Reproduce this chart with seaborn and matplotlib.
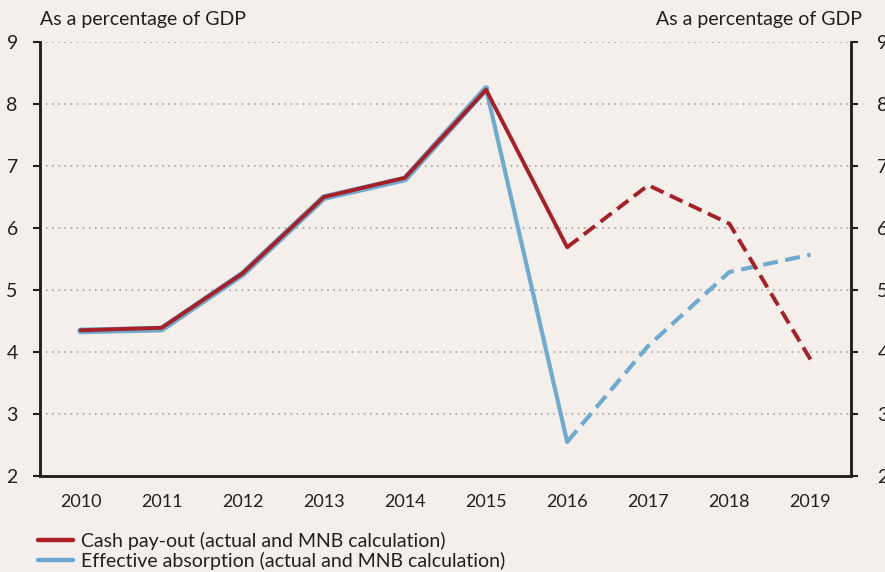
import pandas as pd
import matplotlib.pyplot as plt
import seaborn as sns

# Data
years = [2010, 2011, 2012, 2013, 2014, 2015, 2016, 2017, 2018, 2019]
cash_payout = [4.35, 4.39, 5.27, 6.50, 6.81, 8.23, 5.69, 6.69, 6.07, 3.88]
absorption = [4.34, 4.37, 5.26, 6.49, 6.79, 8.25, 2.55, 4.10, 5.29, 5.57]
last_actual = 2016  # solid up to here, dashed afterwards

bg = '#f5efec'
red = '#a81f25'
blue = '#6eabd0'
ink = '#231f20'

sns.set_style('white')
plt.rcParams['font.family'] = ['Lato', 'DejaVu Sans']

df = pd.DataFrame({'year': years, 'cash': cash_payout, 'absorb': absorption})
actual = df[df['year'] <= last_actual]
forecast = df[df['year'] >= last_actual]
overlap = df[df['year'] <= 2015]

fig = plt.figure(figsize=(8.85, 5.72), dpi=100, facecolor=bg)
ax = fig.add_axes([0.0452, 0.1678, 0.9164, 0.7588], facecolor=bg)

# blue halo under the shared part, then actual and forecast segments
sns.lineplot(data=overlap, x='year', y='absorb', ax=ax, color=blue, lw=4.8, zorder=2)
sns.lineplot(data=actual, x='year', y='absorb', ax=ax, color=blue, lw=3.0, zorder=2)
sns.lineplot(data=forecast, x='year', y='absorb', ax=ax, color=blue, lw=3.0,
             linestyle=(0, (3.6, 1.8)), zorder=2)
sns.lineplot(data=actual, x='year', y='cash', ax=ax, color=red, lw=2.8, zorder=3)
sns.lineplot(data=forecast, x='year', y='cash', ax=ax, color=red, lw=2.8,
             linestyle=(0, (3.6, 1.8)), zorder=3)

ax.set_xlim(years[0] - 0.5, years[-1] + 0.5)
ax.set_ylim(2, 9)
ax.set_xlabel('')
ax.set_ylabel('')

# category ticks between years, labels centred
ax.set_xticks([y - 0.5 for y in years] + [years[-1] + 0.5])
ax.set_xticklabels([])
ax.set_xticks(years, minor=True)
ax.set_xticklabels([str(y) for y in years], minor=True, fontsize=13, color=ink)
ax.tick_params(axis='x', which='major', direction='out', length=5, width=1.5, color=ink)
ax.tick_params(axis='x', which='minor', length=0, pad=13)

ax.set_yticks(range(2, 10))
ax.tick_params(axis='y', direction='out', length=5, width=1.5, color=ink,
               labelsize=14, labelcolor=ink, pad=11)
ax.yaxis.grid(True, linestyle=(0, (1, 3)), color='#9a9a9a', lw=1.1)
ax.set_axisbelow(True)

# right-hand axis mirrors the left one (labels run off the edge as in the original)
ax2 = ax.twinx()
ax2.set_ylim(2, 9)
ax2.set_yticks(range(2, 10))
ax2.tick_params(axis='y', direction='out', length=5, width=1.5, color=ink,
                labelsize=14, labelcolor=ink, pad=14)

for a in (ax, ax2):
    a.spines['top'].set_visible(False)
    for s in ('left', 'right', 'bottom'):
        a.spines[s].set_color(ink)
        a.spines[s].set_linewidth(1.8)

fig.text(40 / 885, 1 - 20 / 572, 'As a percentage of GDP', ha='left', va='center',
         fontsize=14, color=ink)
fig.text(862 / 885, 1 - 20 / 572, 'As a percentage of GDP', ha='right', va='center',
         fontsize=14, color=ink)

handles = [plt.Line2D([], [], color=red, lw=3.2), plt.Line2D([], [], color=blue, lw=3.2)]
labels = ['Cash pay-out (actual and MNB calculation)',
          'Effective absorption (actual and MNB calculation)']
fig.legend(handles, labels, loc='upper left', bbox_to_anchor=(38 / 885, 1 - 532 / 572),
           frameon=False, fontsize=14, handlelength=1.8, handletextpad=0.4,
           labelspacing=0.1, borderaxespad=0, borderpad=0, labelcolor=ink)

fig.savefig('out.png', dpi=100, facecolor=bg)
